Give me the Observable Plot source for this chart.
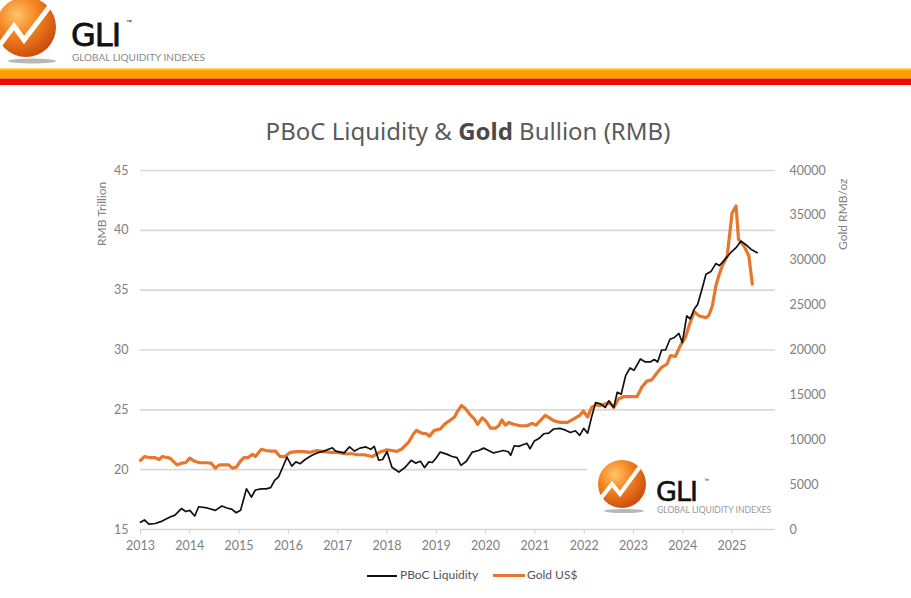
<!DOCTYPE html>
<html>
<head>
<meta charset="utf-8">
<script src="https://cdn.jsdelivr.net/npm/d3@7"></script>
<script src="https://cdn.jsdelivr.net/npm/@observablehq/plot@0.6"></script>
<style>
  html, body { margin: 0; padding: 0; background: #fff; }
  body { width: 911px; height: 598px; position: relative; overflow: hidden; font-family: Lato, "Open Sans", sans-serif; }
  .abs { position: absolute; }
  #title { left: 0; width: 936px; top: 114px; text-align: center; font-family: "Noto Sans", sans-serif; font-size: 24px; color: #5a5a5a; }
  #title b { font-weight: 700; color: #4a4a4a; }
  .ylab { font-size: 12px; color: #808080; transform: rotate(-90deg); transform-origin: left top; white-space: nowrap; }
  #chart { left: 0; top: 150px; }
  #legend { top: 567px; left: 0; width: 911px; font-size: 12px; color: #555; }
  .sw { position: absolute; height: 0; }
</style>
</head>
<body>
<svg class="abs" style="left:0;top:0" width="911" height="90">
  <defs>
    <radialGradient id="ballG" cx="0.35" cy="0.3" r="0.75">
      <stop offset="0" stop-color="#ffc46b"/>
      <stop offset="0.45" stop-color="#f5841f"/>
      <stop offset="1" stop-color="#c84a0c"/>
    </radialGradient>
  </defs>
  <ellipse cx="32" cy="61" rx="24" ry="2.5" fill="#9a9a9a" opacity="0.7"/>
  <circle cx="26" cy="27" r="30" fill="url(#ballG)"/>
  <polyline points="-4,50 14,26 24,40 50,6" fill="none" stroke="#fff" stroke-width="5" stroke-linejoin="miter"/>
  <text x="71" y="46" font-family="DejaVu Sans, sans-serif" font-size="32" fill="#111" stroke="#111" stroke-width="0.8" letter-spacing="-1">GLI</text>
  <text x="126" y="24" font-family="sans-serif" font-size="6" fill="#111">™</text>
  <text x="72" y="61" font-family="Lato, sans-serif" font-size="10" fill="#8a8a8a">GLOBAL LIQUIDITY INDEXES</text>
  <rect x="0" y="68" width="911" height="1.5" fill="#f7d36a"/>
  <rect x="0" y="69.5" width="911" height="9" fill="#ff9f00"/>
  <rect x="0" y="78.5" width="911" height="6.5" fill="#f10a0a"/>
</svg>

<div id="title" class="abs">PBoC Liquidity &amp; <b>Gold</b> Bullion (RMB)</div>

<div id="chart" class="abs"></div>

<div class="abs ylab" style="left:94px; top:246px;">RMB Trillion</div>
<div class="abs ylab" style="left:835px; top:250px;">Gold RMB/oz</div>

<svg class="abs" style="left:0;top:0;pointer-events:none" width="911" height="598">
  <defs>
    <radialGradient id="ballG2" cx="0.35" cy="0.3" r="0.75">
      <stop offset="0" stop-color="#ffc46b"/>
      <stop offset="0.45" stop-color="#f5841f"/>
      <stop offset="1" stop-color="#c84a0c"/>
    </radialGradient>
    <clipPath id="ballClip"><circle cx="622" cy="484" r="24"/></clipPath>
  </defs>
  <rect x="587" y="455" width="195" height="66" fill="#fff"/>
  <ellipse cx="624" cy="511" rx="20" ry="2" fill="#999" opacity="0.7"/>
  <circle cx="622" cy="484" r="24" fill="url(#ballG2)"/>
  <polyline clip-path="url(#ballClip)" points="598,502 612,484 620,494 642,464" fill="none" stroke="#fff" stroke-width="4"/>
  <text x="656" y="501" font-family="DejaVu Sans, sans-serif" font-size="27" fill="#111" stroke="#111" stroke-width="0.6" letter-spacing="-1">GLI</text>
  <text x="704" y="482" font-family="sans-serif" font-size="5" fill="#111">™</text>
  <text x="657" y="513" font-family="Lato, sans-serif" font-size="8.6" fill="#999">GLOBAL LIQUIDITY INDEXES</text>
</svg>

<div id="legend" class="abs">
  <div class="sw" style="left:367px; top:8px; width:30px; border-top:2px solid #111;"></div>
  <div class="abs" style="left:400px; top:0;">PBoC Liquidity</div>
  <div class="sw" style="left:493px; top:7px; width:32px; border-top:3px solid #e8762d;"></div>
  <div class="abs" style="left:527px; top:0;">Gold US$</div>
</div>

<script>
// ---- data ----
const years = [2013,2014,2015,2016,2017,2018,2019,2020,2021,2022,2023,2024,2025];
const leftTicks = [15,20,25,30,35,40,45];
const goldTicks = [0,5000,10000,15000,20000,25000,30000,35000,40000];

const pbocDates = [2013.0,2013.08,2013.17,2013.3,2013.44,2013.6,2013.7,2013.83,2013.92,2014.0,2014.1,2014.18,2014.35,2014.52,2014.65,2014.75,2014.85,2014.94,2015.03,2015.15,2015.25,2015.33,2015.45,2015.55,2015.64,2015.72,2015.8,2015.9,2015.97,2016.07,2016.15,2016.24,2016.34,2016.48,2016.58,2016.72,2016.89,2016.96,2017.13,2017.24,2017.34,2017.45,2017.57,2017.67,2017.74,2017.83,2017.91,2018.0,2018.1,2018.24,2018.37,2018.49,2018.58,2018.68,2018.76,2018.85,2018.92,2019.0,2019.08,2019.21,2019.32,2019.42,2019.5,2019.61,2019.73,2019.86,2019.96,2020.06,2020.16,2020.26,2020.36,2020.46,2020.51,2020.58,2020.67,2020.77,2020.84,2020.9,2020.99,2021.08,2021.18,2021.28,2021.38,2021.51,2021.62,2021.72,2021.82,2021.91,2021.99,2022.07,2022.15,2022.23,2022.33,2022.43,2022.5,2022.6,2022.67,2022.75,2022.84,2022.93,2023.01,2023.14,2023.24,2023.34,2023.42,2023.49,2023.57,2023.65,2023.74,2023.83,2023.92,2023.99,2024.08,2024.15,2024.23,2024.3,2024.38,2024.47,2024.57,2024.67,2024.74,2024.8,2024.97,2025.08,2025.18,2025.28,2025.38,2025.51];
const pbocValues = [15.6,15.8,15.45,15.5,15.7,16.05,16.2,16.75,16.5,16.6,16.13,16.9,16.8,16.6,16.97,16.8,16.7,16.4,16.6,18.4,17.7,18.3,18.4,18.4,18.5,19.1,19.4,20.35,21.05,20.3,20.65,20.5,20.85,21.2,21.4,21.55,21.83,21.55,21.4,21.9,21.55,21.8,21.9,21.7,21.95,20.8,20.85,21.5,20.2,19.8,20.2,20.78,20.55,20.7,20.17,20.65,20.6,21.0,21.47,21.3,21.1,21.0,20.36,20.7,21.47,21.6,21.8,21.6,21.4,21.5,21.6,21.5,21.2,22.0,21.95,22.1,22.2,21.75,22.4,22.6,23.0,23.05,23.4,23.45,23.3,23.1,23.25,22.86,23.45,23.05,24.4,25.6,25.5,25.2,25.75,25.2,26.47,26.3,27.86,28.5,28.3,29.25,29.0,29.0,29.2,29.0,30.0,30.0,30.9,31.05,31.38,30.63,32.86,32.6,33.4,33.8,34.95,36.33,36.55,37.22,37.05,37.3,38.13,38.55,39.1,38.8,38.42,38.13];

const goldDates = [2013.0,2013.08,2013.2,2013.3,2013.38,2013.44,2013.55,2013.6,2013.74,2013.84,2013.92,2014.0,2014.1,2014.2,2014.33,2014.43,2014.52,2014.6,2014.72,2014.79,2014.86,2014.94,2015.03,2015.1,2015.18,2015.27,2015.33,2015.45,2015.54,2015.64,2015.74,2015.83,2015.93,2016.04,2016.17,2016.31,2016.44,2016.58,2016.72,2016.85,2016.99,2017.16,2017.29,2017.4,2017.54,2017.7,2017.87,2018.0,2018.1,2018.2,2018.3,2018.44,2018.54,2018.6,2018.7,2018.8,2018.86,2018.96,2019.08,2019.18,2019.29,2019.37,2019.42,2019.51,2019.59,2019.69,2019.77,2019.84,2019.93,2020.0,2020.1,2020.2,2020.27,2020.33,2020.4,2020.47,2020.57,2020.7,2020.84,2020.94,2021.02,2021.11,2021.21,2021.27,2021.38,2021.52,2021.66,2021.79,2021.91,2021.98,2022.07,2022.15,2022.23,2022.33,2022.43,2022.5,2022.6,2022.7,2022.8,2022.95,2023.07,2023.17,2023.27,2023.37,2023.47,2023.57,2023.68,2023.75,2023.85,2023.95,2024.05,2024.15,2024.23,2024.33,2024.47,2024.53,2024.6,2024.67,2024.74,2024.8,2024.9,2025.0,2025.08,2025.13,2025.24,2025.34,2025.41];
const goldValues = [7700,8130,8000,8000,7800,8130,8000,7960,7200,7400,7470,7960,7600,7440,7440,7400,6840,7200,7200,7200,6840,6930,7630,8000,8000,8370,8130,8930,8800,8730,8730,8130,8130,8600,8670,8670,8600,8800,8670,8600,8600,8440,8440,8330,8330,8130,8670,8870,8800,8700,8970,9730,10670,11040,10730,10670,10400,11040,11200,11800,12200,12530,13070,13810,13470,12770,12330,11710,12440,12130,11290,11290,11600,12200,11630,11930,11730,11560,11560,11830,11630,12130,12710,12530,12130,11930,11930,12330,12710,13200,12530,13600,13870,13810,14000,14190,13600,14560,14800,14800,14800,15870,16530,16670,17400,18070,18440,19370,19290,20480,21400,23070,24270,23800,23600,23870,24930,27150,28440,29370,30480,35290,36040,32330,31600,30480,27330];

// left axis 15..45 shares the frame with right axis 0..40000
const leftMin = 15, leftMax = 45, goldMax = 40000;
const toLeft = g => leftMin + g * (leftMax - leftMin) / goldMax;

const pboc = pbocDates.map((d, i) => ({x: d, y: pbocValues[i]}));
const gold = goldDates.map((d, i) => ({x: d, y: toLeft(goldValues[i])}));

const chart = Plot.plot({
  width: 911,
  height: 410,
  marginTop: 20,
  marginBottom: 31,
  marginLeft: 140,
  marginRight: 136,
  x: {domain: [2013, 2025.88]},
  y: {domain: [leftMin, leftMax]},
  style: {fontFamily: "Lato, 'Open Sans', sans-serif", fontSize: "12.5px", color: "#808080", background: "transparent", overflow: "visible"},
  marks: [
    Plot.gridY([20,25,30,35,40,45], {stroke: "#d9d9d9", strokeOpacity: 1, strokeWidth: 1.6}),
    Plot.ruleY([15], {stroke: "#d6d6d6", strokeWidth: 1.6}),
    Plot.axisX(years, {tickFormat: d => String(d), tickSize: 5, tickPadding: 7, stroke: "#d0d0d0", label: null}),
    Plot.axisY(leftTicks, {anchor: "left", tickSize: 0, tickPadding: 12, label: null}),
    Plot.axisY(goldTicks.map(toLeft), {anchor: "right", tickSize: 0, tickPadding: 14, textAnchor: "start", label: null,
      tickFormat: v => String(Math.round((v - leftMin) * goldMax / (leftMax - leftMin)))}),
    Plot.line(gold, {x: "x", y: "y", stroke: "#e8762d", strokeWidth: 3.2, strokeLinejoin: "round"}),
    Plot.line(pboc, {x: "x", y: "y", stroke: "#111", strokeWidth: 1.7, strokeLinejoin: "round"})
  ]
});
document.getElementById("chart").appendChild(chart);
</script>
</body>
</html>
